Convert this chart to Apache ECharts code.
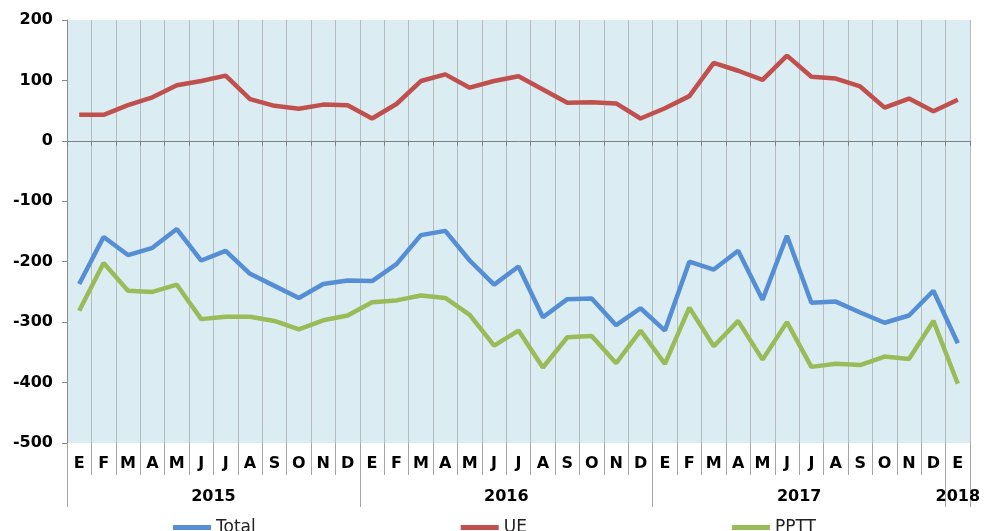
<!DOCTYPE html>
<html>
<head>
<meta charset="utf-8">
<script src="https://cdn.jsdelivr.net/npm/echarts@6/dist/echarts.min.js"></script>
<style>
  html, body { margin: 0; padding: 0; background: #fff; }
  #chart { width: 985px; height: 531px; }
</style>
</head>
<body>
<div id="chart"></div>
<script>
(function(){
    var months = ['E','F','M','A','M','J','J','A','S','O','N','D',
                  'E','F','M','A','M','J','J','A','S','O','N','D',
                  'E','F','M','A','M','J','J','A','S','O','N','D',
                  'E'];
    var years = ['2015', '2016', '2017', '2018'];
    var yearStart = [0, 12, 24, 36];
    var yearLen = [12, 12, 12, 1];

    var total = [-237,-159,-189,-177,-146,-198,-182,-220,-240,-260,-237,-231,
                 -232,-204,-156,-149,-198,-238,-208,-292,-262,-261,-305,-277,
                 -314,-200,-213,-182,-263,-157,-268,-266,-284,-301,-289,-248,
                 -335];
    var ue = [43,43,59,72,92,99,108,69,58,53,60,59,
              37,61,99,110,88,99,107,85,63,64,62,37,
              54,74,129,116,101,141,106,103,90,55,70,49,
              68];
    var pptt = [-281,-202,-248,-250,-238,-295,-291,-291,-298,-312,-297,-289,
                -267,-264,-256,-260,-288,-339,-314,-375,-325,-323,-368,-314,
                -369,-276,-340,-298,-362,-300,-374,-369,-371,-357,-361,-298,
                -402];

    // year separators and label positions on a 0..n value scale
    var yearTicks = yearStart.concat([months.length]);
    var yearMid = yearStart.map(function (s, i) { return s + yearLen[i] / 2; });

    var font = '"DejaVu Sans", Verdana, sans-serif';
    var myChart = echarts.init(document.getElementById('chart'));

    var option = {
        animation: false,
        grid: {
            left: 67, right: 15, top: 20, bottom: 88,
            show: true,
            backgroundColor: '#dbecf2',
            borderWidth: 0
        },
        legend: {
            left: 168,
            top: 514,
            itemGap: 205,
            icon: 'rect',
            itemWidth: 38,
            itemHeight: 5,
            textStyle: { fontFamily: font, fontSize: 17, color: '#222' },
            data: ['Total', 'UE', 'PPTT']
        },
        xAxis: [
            {
                type: 'category',
                data: months,
                boundaryGap: true,
                axisLine: { onZero: true, lineStyle: { color: '#808080', width: 1 } },
                axisTick: { show: true, length: 5, lineStyle: { color: '#808080' } },
                axisLabel: { show: false },
                splitLine: { show: true, lineStyle: { color: '#b5bcc0', width: 1 } }
            },
            {
                type: 'category',
                data: months,
                boundaryGap: true,
                position: 'bottom',
                axisLine: { show: false, onZero: false },
                axisTick: { show: true, length: 32, interval: 0, lineStyle: { color: '#a6a6a6' } },
                axisLabel: {
                    interval: 0, margin: 13,
                    fontFamily: font, fontSize: 16, fontWeight: 'bold', color: '#000'
                },
                splitLine: { show: false }
            },
            {
                type: 'value',
                min: 0,
                max: months.length,
                position: 'bottom',
                axisLine: { show: false, onZero: false },
                axisTick: {
                    show: true, length: 64, customValues: yearTicks,
                    lineStyle: { color: '#a6a6a6' }
                },
                axisLabel: {
                    customValues: yearMid,
                    margin: 46,
                    fontFamily: font, fontSize: 16, fontWeight: 'bold', color: '#000',
                    formatter: function (v) {
                        var i = yearMid.indexOf(v);
                        return i >= 0 ? years[i] : '';
                    }
                },
                splitLine: { show: false }
            }
        ],
        yAxis: {
            type: 'value',
            min: -500,
            max: 200,
            interval: 100,
            axisLine: { show: true, lineStyle: { color: '#8a8a8a' } },
            axisTick: { show: true, length: 5, lineStyle: { color: '#8a8a8a' } },
            axisLabel: {
                margin: 14,
                fontFamily: font, fontSize: 16, fontWeight: 'bold', color: '#000'
            },
            splitLine: { show: false }
        },
        series: [
            {
                name: 'Total', type: 'line', data: total, symbol: 'none',
                xAxisIndex: 0,
                itemStyle: { color: '#558ed5' },
                lineStyle: { color: '#558ed5', width: 4.5 }
            },
            {
                name: 'UE', type: 'line', data: ue, symbol: 'none',
                xAxisIndex: 0,
                itemStyle: { color: '#c0504d' },
                lineStyle: { color: '#c0504d', width: 4.5 }
            },
            {
                name: 'PPTT', type: 'line', data: pptt, symbol: 'none',
                xAxisIndex: 0,
                itemStyle: { color: '#9bbb59' },
                lineStyle: { color: '#9bbb59', width: 4.5 }
            }
        ]
    };

    myChart.setOption(option);
})();
</script>
</body>
</html>
